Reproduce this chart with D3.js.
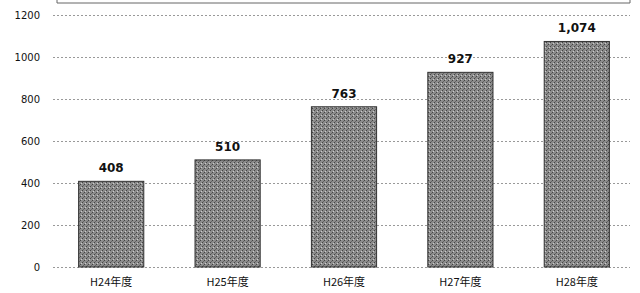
<!DOCTYPE html>
<html><head><meta charset="utf-8">
<script src="https://cdn.jsdelivr.net/npm/d3@7"></script>
<style>body{margin:0;background:#fff}svg{display:block}</style>
</head><body>
<script>
const categories = ["H24年度","H25年度","H26年度","H27年度","H28年度"];
const values = [408, 510, 763, 927, 1074];
const yTicks = [0, 200, 400, 600, 800, 1000, 1200];

const W = 640, H = 293;
const svg = d3.select("body").append("svg").attr("width", W).attr("height", H);

const defs = svg.append("defs");
const pat = defs.append("pattern").attr("id","dith").attr("patternUnits","userSpaceOnUse")
  .attr("width",4).attr("height",4);
pat.append("rect").attr("width",4).attr("height",4).attr("fill","#8c8c8c");
pat.append("rect").attr("x",0).attr("y",0).attr("width",1).attr("height",1).attr("fill","#444");
pat.append("rect").attr("x",2).attr("y",2).attr("width",1).attr("height",1).attr("fill","#444");
pat.append("rect").attr("x",1).attr("y",3).attr("width",1).attr("height",1).attr("fill","#ccc");
pat.append("rect").attr("x",3).attr("y",1).attr("width",1).attr("height",1).attr("fill","#666");

const x = d3.scaleBand().domain(categories).range([53, 635]).paddingInner(0.44).paddingOuter(0.22);
const y = d3.scaleLinear().domain([0, 1200]).range([267, 15]);

// partial frame at top
svg.append("path").attr("d", `M57,-5 L57,3 L630,3 L630,-5`).attr("fill","none").attr("stroke","#666").attr("stroke-width",1);

// gridlines
svg.append("g").selectAll("line").data(yTicks).join("line")
  .attr("x1", 53).attr("x2", 630)
  .attr("y1", d => Math.round(y(d)) + 0.5).attr("y2", d => Math.round(y(d)) + 0.5)
  .attr("stroke", "#999").attr("stroke-width", 1).attr("stroke-dasharray", "2,2");

// y axis labels
const yAxis = d3.axisLeft(y).tickValues(yTicks).tickFormat(d3.format("d")).tickSize(0).tickPadding(0);
const ga = svg.append("g").attr("transform","translate(40,0)").call(yAxis);
ga.select(".domain").remove();
ga.selectAll("text").attr("font-family","DejaVu Sans, sans-serif").attr("font-size",10).attr("fill","#111");

// bars
svg.append("g").selectAll("rect").data(values).join("rect")
  .attr("x", (d,i) => x(categories[i]))
  .attr("y", d => y(d))
  .attr("width", x.bandwidth())
  .attr("height", d => y(0) - y(d))
  .attr("fill", "url(#dith)").attr("stroke","#333").attr("stroke-width",1);

// value labels
const fmt = d3.format(",");
svg.append("g").selectAll("text").data(values).join("text")
  .attr("x", (d,i) => x(categories[i]) + x.bandwidth()/2)
  .attr("y", d => y(d) - 9)
  .attr("text-anchor","middle")
  .attr("font-family","DejaVu Sans, sans-serif").attr("font-weight","bold").attr("font-size",12)
  .attr("fill","#111")
  .text(d => fmt(d));

// category labels
const xAxis = d3.axisBottom(x).tickSize(0).tickPadding(0);
const gx = svg.append("g").attr("transform","translate(0,278)").call(xAxis);
gx.select(".domain").remove();
gx.selectAll("text").attr("font-family","Noto Sans CJK JP, sans-serif").attr("font-size",11).attr("fill","#111");
</script>
</body></html>
